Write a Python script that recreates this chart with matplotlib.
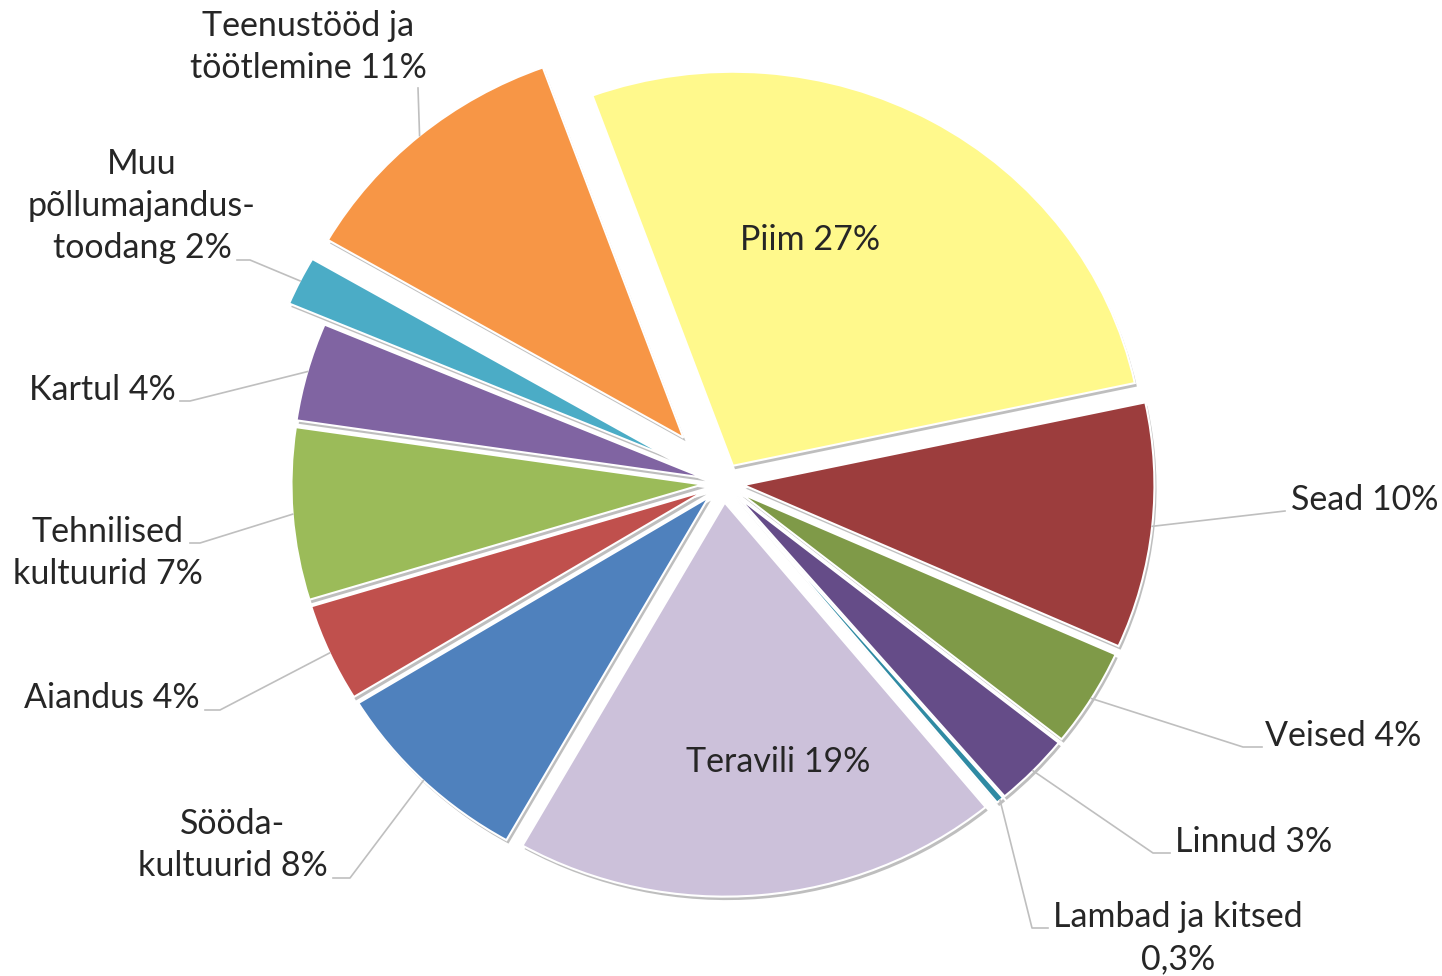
import numpy as np
import matplotlib.pyplot as plt
import matplotlib.patheffects as pe

# data (share of agricultural output, %)
categories = ["Piim", "Sead", "Veised", "Linnud", "Lambad ja kitsed", "Teravili",
              "Sööda-kultuurid", "Aiandus", "Tehnilised kultuurid", "Kartul",
              "Muu põllumajandustoodang", "Teenustööd ja töötlemine"]
shares = [27, 10, 4, 3, 0.3, 19, 8, 4, 7, 4, 2, 11]
label_texts = ["Piim 27%", "Sead 10%", "Veised 4%", "Linnud 3%", "Lambad ja kitsed\n0,3%",
               "Teravili 19%", "Sööda-\nkultuurid 8%", "Aiandus 4%", "Tehnilised\nkultuurid 7%",
               "Kartul 4%", "Muu\npõllumajandus-\ntoodang 2%", "Teenustööd ja\ntöötlemine 11%"]
colors = ["#FFF98C", "#9C3D3D", "#7F9A48", "#654C88", "#2F8AA3", "#CCC1DA",
          "#4F81BD", "#C0504D", "#9BBB59", "#8064A2", "#4BACC6", "#F79646"]
explode = [0.05, 0.05, 0.05, 0.05, 0.05, 0.05, 0.05, 0.05, 0.05, 0.05, 0.15, 0.15]

# layout, in figure pixels: pie centre and radii (the original is slightly stretched)
W, H = 1442, 976
CX, CY, RX, RY = 723, 483, 411, 394
# text anchor (x, y, ha) and leader elbow / end for each label; None = inside the slice
text_pos = [(810, 240, "center"), (1291, 500, "left"), (1265, 736, "left"),
            (1175, 842, "left"), (1178, 938, "center"), (778, 762, "center"),
            (233, 845, "center"), (200, 698, "right"), (108, 553, "center"),
            (176, 390, "right"), (142, 206, "center"), (308, 47, "center")]
leaders = [None, ((1285, 511), (1285, 511)), ((1243, 747), (1262, 747)),
           ((1153, 853), (1170, 853)), ((1032, 928), (1048, 928)), None,
           ((350, 878), (333, 878)), ((220, 710), (205, 710)), ((200, 543), (190, 543)),
           ((190, 401), (180, 401)), ((250, 260), (237, 260)), ((418, 88), (418, 88))]


def px(x, y):
    return (x - CX) / RX, (CY - y) / RY


plt.rcParams["font.family"] = ["Lato", "DejaVu Sans"]

fig = plt.figure(figsize=(W / 100, H / 100), dpi=100)
ax = fig.add_axes([0, 0, 1, 1])

wedges, _ = ax.pie(shares, colors=colors, explode=explode, startangle=110,
                   counterclock=False, radius=1.0,
                   wedgeprops=dict(edgecolor="white", linewidth=1.5))
for w in wedges:
    w.set_path_effects([pe.SimplePatchShadow(offset=(1.5, -2.5), shadow_rgbFace="#7f7f7f", alpha=0.5),
                        pe.Normal()])

for w, txt, (tx, ty, ha), lead in zip(wedges, label_texts, text_pos, leaders):
    x, y = px(tx, ty)
    ax.text(x, y, txt, ha=ha, va="center", multialignment="center",
            fontsize=24.5, color="#262626", linespacing=1.37, zorder=5)
    if lead is None:
        continue
    mid = np.deg2rad((w.theta1 + w.theta2) / 2)
    sx = w.center[0] + w.r * np.cos(mid)
    sy = w.center[1] + w.r * np.sin(mid)
    (ex, ey), (fx, fy) = px(*lead[0]), px(*lead[1])
    ax.plot([sx, ex, fx], [sy, ey, fy], color="#BFBFBF", linewidth=1.2, zorder=4)

ax.set_aspect("auto")
ax.set_xlim(-CX / RX, (W - CX) / RX)
ax.set_ylim(-(H - CY) / RY, CY / RY)
ax.axis("off")

fig.savefig("out.png", dpi=100, facecolor="white")
